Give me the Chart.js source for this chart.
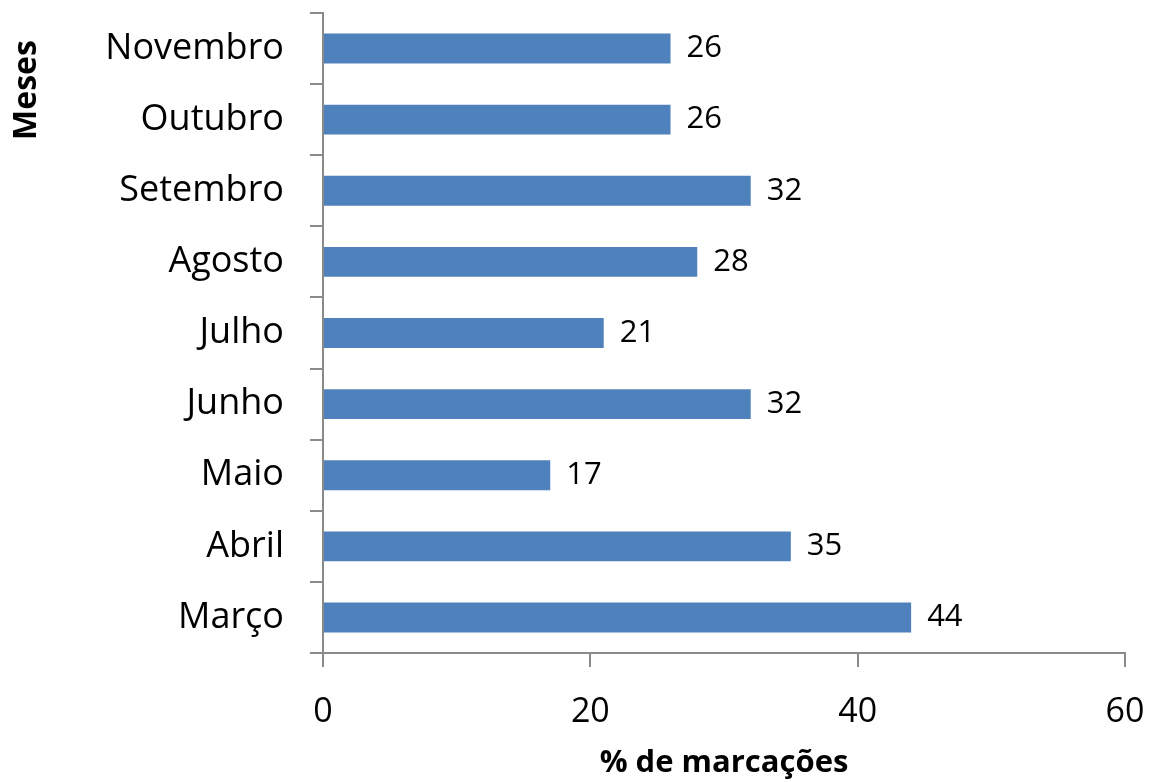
<!DOCTYPE html>
<html>
<head>
<meta charset="utf-8">
<script src="https://cdn.jsdelivr.net/npm/chart.js@4.4.1/dist/chart.umd.min.js"></script>
<style>
    html, body { margin: 0; padding: 0; background: #fff; }
    #wrap { width: 1150px; height: 782px; position: relative; }
</style>
</head>
<body>
<div id="wrap"><canvas id="barchart"></canvas></div>
<script>
// dados (de baixo para cima)
const months = ['Março', 'Abril', 'Maio', 'Junho', 'Julho', 'Agosto', 'Setembro', 'Outubro', 'Novembro'];
const percentages = [44, 35, 17, 32, 21, 28, 32, 26, 26];
const xTicks = [0, 20, 40, 60];

const axisGray = '#8a8a8a';
const fontFamily = "'Open Sans', 'Liberation Sans', sans-serif";

// valores ao lado das barras
const valueLabels = {
    id: 'valueLabels',
    afterDatasetsDraw(chart) {
        const ctx = chart.ctx;
        const meta = chart.getDatasetMeta(0);
        ctx.save();
        ctx.font = '31px ' + fontFamily;
        ctx.fillStyle = '#000';
        ctx.textAlign = 'left';
        ctx.textBaseline = 'middle';
        meta.data.forEach(function (bar, i) {
            ctx.fillText(String(percentages[i]), bar.x + 16, bar.y);
        });
        ctx.restore();
    }
};

// título do eixo y, no topo como no original
const yTitle = {
    id: 'yTitle',
    afterDraw(chart) {
        const ctx = chart.ctx;
        ctx.save();
        ctx.translate(27, 90);
        ctx.rotate(-Math.PI / 2);
        ctx.font = 'bold 32px ' + fontFamily;
        ctx.fillStyle = '#000';
        ctx.textAlign = 'center';
        ctx.textBaseline = 'middle';
        ctx.fillText('Meses', 0, 0);
        ctx.restore();
    }
};

function createBarChart() {
    const ctx = document.getElementById('barchart').getContext('2d');

    new Chart(ctx, {
        type: 'bar',
        data: {
            labels: months,
            datasets: [{
                data: percentages,
                backgroundColor: '#4f81bd',
                borderWidth: 0,
                categoryPercentage: 1,
                barPercentage: 0.42
            }]
        },
        options: {
            indexAxis: 'y',
            responsive: true,
            maintainAspectRatio: false,
            animation: false,
            layout: { padding: { top: 13, right: 25, left: 0, bottom: 0 } },
            plugins: {
                legend: { display: false },
                tooltip: { enabled: false }
            },
            scales: {
                y: {
                    reverse: true,
                    grid: {
                        offset: true,
                        drawOnChartArea: false,
                        drawTicks: true,
                        tickLength: 13,
                        color: axisGray,
                        lineWidth: 2
                    },
                    border: { display: true, color: axisGray, width: 2 },
                    ticks: {
                        color: '#000',
                        padding: 26,
                        font: { family: fontFamily, size: 36 }
                    },
                    afterFit: function (scale) {
                        scale.width = 323;
                        scale.paddingTop = 0;
                        scale.paddingBottom = 0;
                    }
                },
                x: {
                    min: 0,
                    max: 60,
                    afterBuildTicks: function (scale) {
                        scale.ticks = xTicks.map(function (v) { return { value: v }; });
                    },
                    grid: {
                        drawOnChartArea: false,
                        drawTicks: true,
                        tickLength: 14,
                        color: axisGray,
                        lineWidth: 2
                    },
                    border: { display: true, color: axisGray, width: 2 },
                    ticks: {
                        color: '#000',
                        padding: 25,
                        maxRotation: 0,
                        font: { family: fontFamily, size: 34 }
                    },
                    title: {
                        display: true,
                        text: '% de marcações',
                        color: '#000',
                        padding: { top: 0, bottom: 0 },
                        font: { family: fontFamily, size: 31, weight: 'bold' }
                    },
                    afterFit: function (scale) {
                        scale.height = 129;
                        scale.paddingLeft = 0;
                        scale.paddingRight = 0;
                    }
                }
            }
        },
        plugins: [valueLabels, yTitle]
    });
}

document.addEventListener('DOMContentLoaded', function () {
    createBarChart();
});
</script>
</body>
</html>
